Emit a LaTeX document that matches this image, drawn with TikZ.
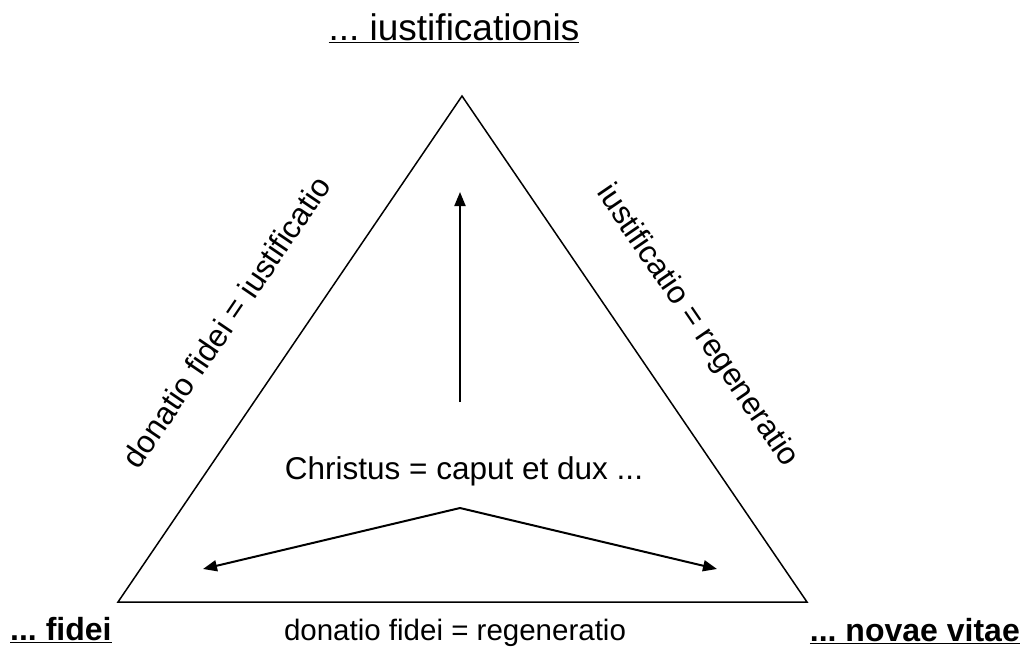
\documentclass[tikz,border=0pt]{standalone}
\usepackage{fontspec}
\setmainfont{Liberation Sans}
\usetikzlibrary{arrows.meta}
\frenchspacing
\begin{document}
\begin{tikzpicture}[x=1pt,y=-1pt,
  edge/.style={line width=1.5pt, line join=miter},
  arr/.style={line width=2pt, -{Triangle[length=14pt,width=11pt]}},
  lbl/.style={font=\fontsize{31.5}{36}\selectfont, inner sep=0pt},
  corner/.style={font=\fontsize{32}{38}\selectfont\bfseries, inner sep=0pt},
]
\useasboundingbox (0,0) rectangle (1027,651);
\coordinate (T) at (462,96);
\coordinate (L) at (118,602);
\coordinate (R) at (807,602);
\draw[edge] (T) -- (L) -- (R) -- cycle;

\node[anchor=base, inner sep=0pt, font=\fontsize{37}{44}\selectfont] (top) at (454,40) {\underline{... iustificationis}};
\node[corner, anchor=base west] (fidei) at (10,640) {\underline{... fidei}};
\node[corner, anchor=base east] (vitae) at (1020,641) {\underline{... novae vitae}};
\node[lbl, anchor=base, font=\fontsize{29.5}{36}\selectfont] (bottom) at (455,640) {donatio fidei = regeneratio};
\node[lbl, anchor=base] (christ) at (464,479) {Christus = caput et dux ...};
\node[lbl, rotate=55.8] (left) at (226,322) {donatio fidei = iustificatio};
\node[lbl, rotate=-55.7] (right) at (697,326) {iustificatio = regeneratio};

\coordinate (up0) at (460,402);
\coordinate (up1) at (460,192);
\draw[arr] (up0) -- (up1);
\coordinate (F) at (460,508);
\coordinate (FL) at (203,569);
\coordinate (FR) at (717,569);
\draw[arr] (F) -- (FL);
\draw[arr] (F) -- (FR);
\end{tikzpicture}
\end{document}
